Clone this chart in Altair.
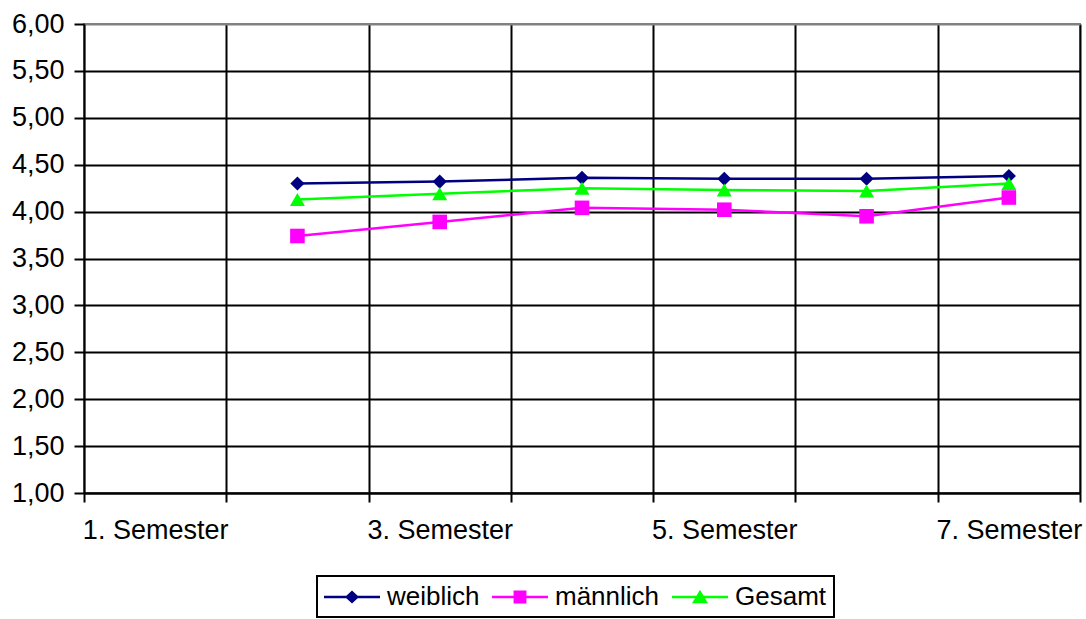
import json
import altair as alt
import pandas as pd

# ---- data ----
semesters = ["1. Semester", "2. Semester", "3. Semester", "4. Semester",
             "5. Semester", "6. Semester", "7. Semester"]
shown_labels = ["1. Semester", "3. Semester", "5. Semester", "7. Semester"]
data_semesters = ["2. Semester", "3. Semester", "4. Semester",
                  "5. Semester", "6. Semester", "7. Semester"]
weiblich = [4.30, 4.32, 4.36, 4.35, 4.35, 4.38]
maennlich = [3.74, 3.89, 4.04, 4.02, 3.95, 4.15]
gesamt = [4.13, 4.19, 4.25, 4.23, 4.22, 4.30]
series_names = ["weiblich", "männlich", "Gesamt"]
y_ticks = [1.0, 1.5, 2.0, 2.5, 3.0, 3.5, 4.0, 4.5, 5.0, 5.5, 6.0]

# ---- styles ----
series_colors = ["#000080", "#FF00FF", "#00FF00"]
marker_shapes = ["diamond", "square", "triangle-up"]
marker_sizes = [200, 225, 290]
LINE = "M-1,-0.09L3,-0.09L3,0.09L-1,0.09Z "
legend_paths = [
    LINE + "M0.5,0L1,-0.46L1.5,0L1,0.46Z",
    LINE + "M0.54,-0.46L1.46,-0.46L1.46,0.46L0.54,0.46Z",
    LINE + "M1,-0.52L1.57,0.45L0.43,0.45Z",
]
FONT = "Liberation Sans"

rows = []
for name, vals in zip(series_names, [weiblich, maennlich, gesamt]):
    for s, v in zip(data_semesters, vals):
        rows.append({"semester": s, "value": v, "series": name})
df = pd.DataFrame(rows)

label_test = "indexof(" + json.dumps(shown_labels) + ", datum.value) >= 0 ? datum.label : ''"

x_enc = alt.X(
    "semester:N",
    sort=semesters,
    scale=alt.Scale(type="band", domain=semesters, paddingInner=0, paddingOuter=0),
    axis=alt.Axis(
        title=None, tickBand="extent", grid=True,
        gridColor={"condition": {"test": "datum.extra", "value": "#808080"}, "value": "black"},
        gridWidth=2, domainColor="black", domainWidth=2,
        tickColor="black", tickWidth=2, tickSize=9,
        labelPadding=15, labelAngle=0, labelExpr=label_test, labelOverlap=False,
        labelFont=FONT, labelFontSize=27, labelColor="black",
    ),
)
y_enc = alt.Y(
    "value:Q",
    scale=alt.Scale(domain=[1, 6], nice=False, zero=False),
    axis=alt.Axis(
        title=None, values=y_ticks, grid=True,
        gridColor={"condition": {"test": "datum.value === 6", "value": "#808080"}, "value": "black"},
        gridWidth=2, domainColor="black", domainWidth=2,
        tickColor="black", tickWidth=2, tickSize=10, labelPadding=10,
        labelExpr="replace(format(datum.value, '.2f'), '.', ',')",
        labelFont=FONT, labelFontSize=27, labelColor="black",
    ),
)

color_scale = alt.Scale(domain=series_names, range=series_colors)

lines = alt.Chart(df).mark_line(strokeWidth=2.5).encode(
    x=x_enc, y=y_enc,
    color=alt.Color("series:N", scale=color_scale, legend=None),
    detail="series:N",
)

points = alt.Chart(df).mark_point(filled=True, opacity=1).encode(
    x=x_enc, y=y_enc,
    color=alt.Color("series:N", scale=color_scale, legend=None),
    shape=alt.Shape("series:N", scale=alt.Scale(domain=series_names, range=marker_shapes), legend=None),
    size=alt.Size("series:N", scale=alt.Scale(domain=series_names, range=marker_sizes), legend=None),
)

def make_legend():
    return alt.Legend(
        title=None, orient="none", legendX=233, legendY=552, direction="horizontal",
        symbolSize=784, symbolStrokeWidth=0, symbolOpacity=1,
        labelFont=FONT, labelFontSize=26, labelColor="black",
        labelOffset=35, columnPadding=12, padding=7,
    )

legend_layer = alt.Chart(df).transform_filter("false").mark_point(filled=True, opacity=1).encode(
    x=x_enc, y=y_enc,
    color=alt.Color("series:N", scale=color_scale, legend=make_legend()),
    shape=alt.Shape("series:N", scale=alt.Scale(domain=series_names, range=legend_paths), legend=make_legend()),
)

chart = alt.layer(lines, points, legend_layer).resolve_scale(
    color="independent", shape="independent", size="independent"
).properties(
    width=996, height=469,
    autosize=alt.AutoSizeParams(type="none"),
    padding={"left": 84, "top": 24, "right": 6, "bottom": 126},
    background="white",
).configure_view(
    stroke="#808080", strokeWidth=2
).configure_legend(
    strokeColor="black", strokeWidth=2
)

chart.save("out.html", embed_options={"renderer": "svg", "actions": False})
